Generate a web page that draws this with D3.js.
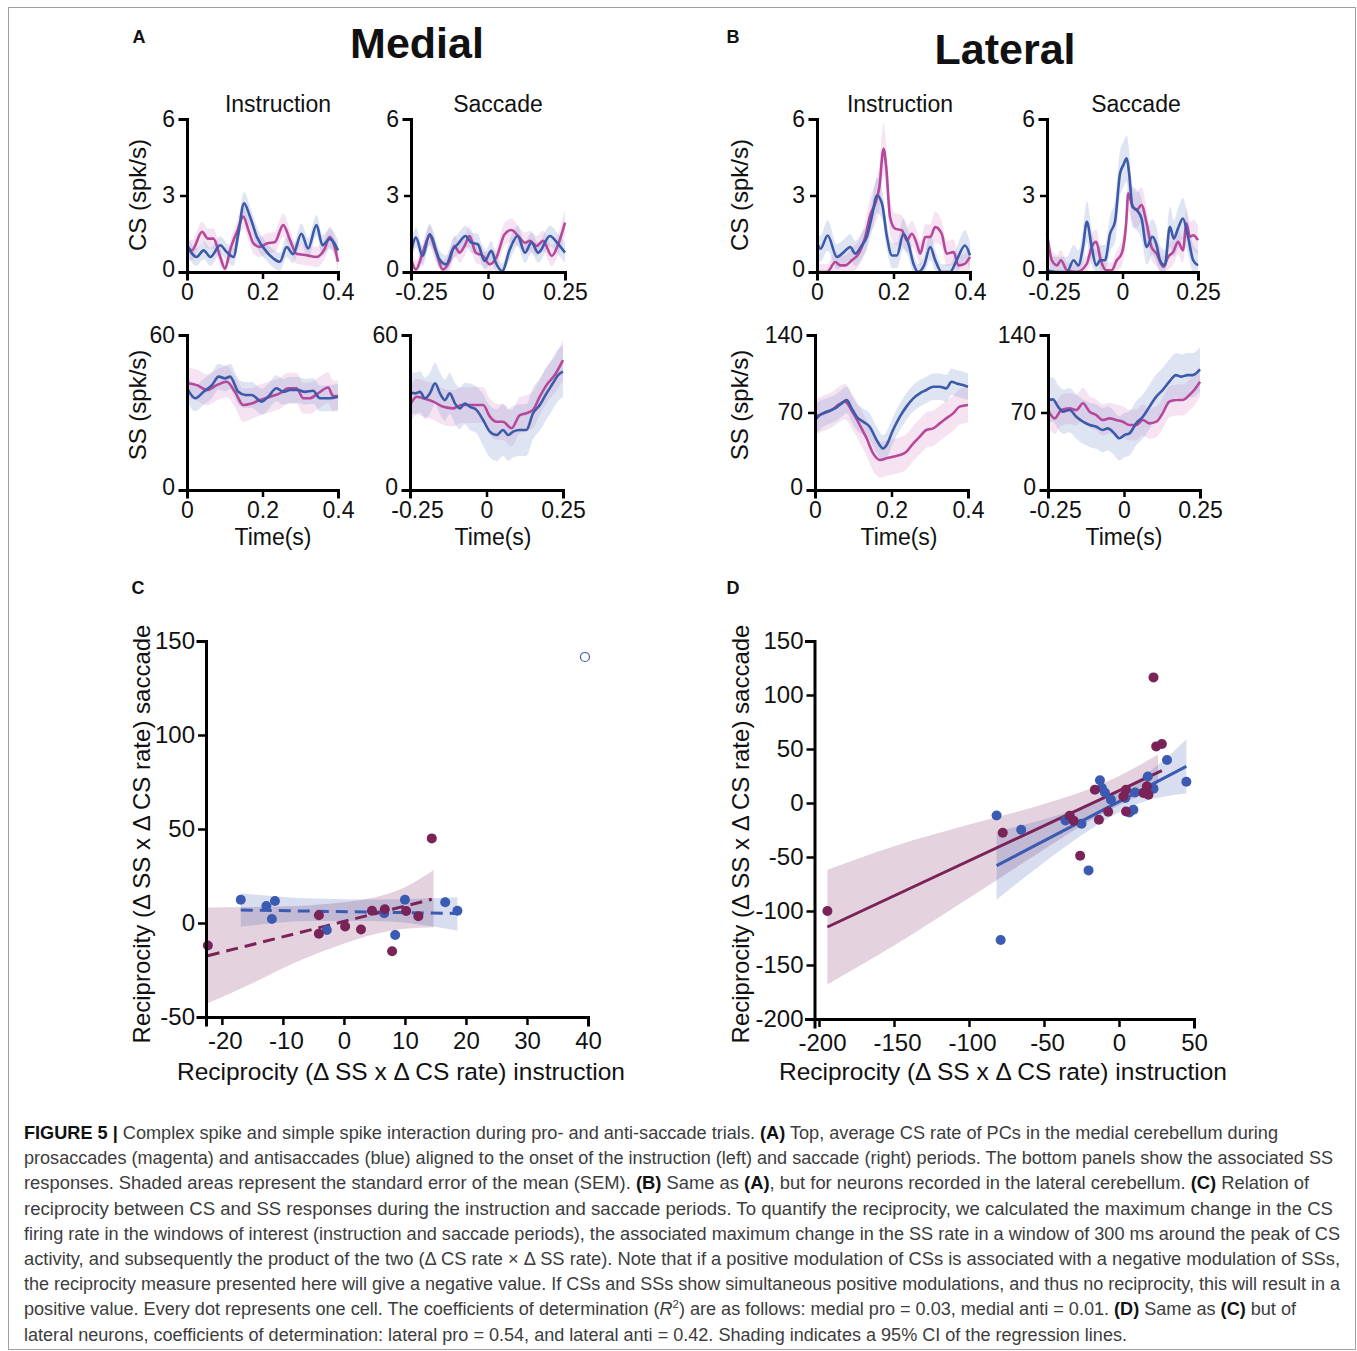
<!DOCTYPE html>
<html>
<head>
<meta charset="utf-8">
<script src="https://cdn.jsdelivr.net/npm/d3@7"></script>
<style>
body { margin: 0; background: #fff; }
svg { display: block; font-family: "Liberation Sans", Arial, Helvetica, sans-serif; }
</style>
</head>
<body>
<div id="chart"></div>
<script>
// ---- tick labels ----
var instrTicks = [0, 0.2, 0.4];
var saccTicks = [-0.25, 0, 0.25];
var csTicks = [0, 3, 6];
var ssMedTicks = [0, 60];
var ssLatTicks = [0, 70, 140];
var cXTicks = [-20, -10, 0, 10, 20, 30, 40];
var cYTicks = [-50, 0, 50, 100, 150];
var dXTicks = [-200, -150, -100, -50, 0, 50];
var dYTicks = [-200, -150, -100, -50, 0, 50, 100, 150];

// ---- traces: [time (s), mean rate, SEM] ----
// A, medial, CS, instruction
var csMedInstrPro = [[0,0.98,0.4],[0.013,0.85,0.4],[0.04,1.58,0.4],[0.055,1.31,0.4],[0.07,1.31,0.4],[0.088,0.59,0.35],[0.101,0.13,0.3],[0.114,0.85,0.35],[0.134,1.64,0.4],[0.149,2.17,0.45],[0.163,1.64,0.4],[0.176,1.12,0.4],[0.193,0.98,0.4],[0.211,1.12,0.4],[0.233,1.18,0.4],[0.255,1.84,0.45],[0.273,1.25,0.4],[0.29,0.72,0.4],[0.317,0.66,0.4],[0.343,0.59,0.4],[0.365,0.92,0.4],[0.378,1.38,0.4],[0.391,0.98,0.4],[0.4,0.4,0.4]];
var csMedInstrAnti = [[0,1.05,0.35],[0.025,0.59,0.35],[0.044,0.85,0.35],[0.062,0.59,0.35],[0.088,1.05,0.35],[0.105,0.79,0.35],[0.123,0.59,0.35],[0.136,1.5,0.4],[0.151,2.69,0.45],[0.167,2.17,0.4],[0.185,1.38,0.4],[0.211,0.79,0.35],[0.229,0.53,0.35],[0.246,0.4,0.35],[0.264,0.98,0.4],[0.281,0.7,0.35],[0.303,1.5,0.4],[0.321,0.92,0.4],[0.343,1.84,0.4],[0.359,1.05,0.4],[0.378,1.3,0.4],[0.4,0.85,0.4]];
// A, medial, CS, saccade
var csMedSaccPro = [[-0.25,0.5,0.4],[-0.234,0.1,0.35],[-0.212,0.76,0.4],[-0.19,1.41,0.4],[-0.168,0.76,0.4],[-0.147,0.1,0.35],[-0.125,0.43,0.4],[-0.109,1.02,0.4],[-0.092,0.76,0.4],[-0.076,1.02,0.4],[-0.06,1.41,0.4],[-0.04,0.76,0.4],[-0.016,0.63,0.4],[0.005,0.3,0.35],[0.027,0.56,0.4],[0.054,1.48,0.45],[0.076,1.65,0.45],[0.098,1.41,0.4],[0.12,1.15,0.4],[0.136,1.22,0.4],[0.158,1.02,0.4],[0.179,1.22,0.4],[0.207,0.63,0.4],[0.228,1.09,0.4],[0.25,1.94,0.5]];
var csMedSaccAnti = [[-0.25,0.76,0.4],[-0.234,1.35,0.4],[-0.212,0.63,0.4],[-0.19,1.48,0.4],[-0.158,0.5,0.35],[-0.136,0.3,0.35],[-0.114,0.89,0.4],[-0.098,1.09,0.4],[-0.073,1.41,0.4],[-0.054,1.15,0.4],[-0.033,1.09,0.4],[-0.011,0.43,0.35],[0.011,0.83,0.4],[0.025,0.37,0.35],[0.046,0.04,0.3],[0.071,0.89,0.4],[0.096,1.41,0.4],[0.12,0.76,0.4],[0.141,1.15,0.4],[0.163,0.76,0.4],[0.201,1.41,0.4],[0.228,1.09,0.4],[0.25,0.76,0.4]];
// A, medial, SS, instruction
var ssMedInstrPro = [[0,41.3,6],[0.026,40.6,6],[0.053,38.7,6],[0.079,40.6,6],[0.105,41.9,6],[0.127,38,6],[0.149,32.9,6.5],[0.171,33.5,6],[0.193,34.8,6],[0.22,36.1,6],[0.246,37.4,6],[0.268,39.4,6],[0.29,39.4,6],[0.308,35.5,6],[0.325,35.5,6],[0.347,37.4,6],[0.374,39.7,6],[0.387,36.4,6],[0.4,36.4,6]];
var ssMedInstrAnti = [[0,39.4,5],[0.022,35.5,5],[0.044,38,5],[0.066,40.6,5],[0.084,43.9,5],[0.101,43.2,5],[0.114,43.9,5],[0.136,38,5],[0.154,36.8,5],[0.171,36.8,5],[0.198,34.2,5],[0.215,36.1,5],[0.237,39.4,5],[0.255,38,5],[0.273,38.7,5],[0.295,38.7,5],[0.312,38,5],[0.334,38.4,5],[0.352,35.5,5],[0.374,35.5,5],[0.4,36.1,5]];
// A, medial, SS, saccade
var ssMedSaccPro = [[-0.25,32.9,7],[-0.228,36.1,7],[-0.207,35.5,7],[-0.174,34.2,7],[-0.141,32.2,7],[-0.109,31.6,7],[-0.082,32.9,7],[-0.054,32.9,7],[-0.011,32.9,7],[0.011,28.4,7],[0.033,26.4,7],[0.054,26.4,7],[0.082,23.9,7],[0.109,29,7],[0.13,29.7,7],[0.152,31,7],[0.174,36.1,7],[0.196,40.6,7],[0.223,44.5,7],[0.25,50.3,8]];
var ssMedSaccAnti = [[-0.25,38,8],[-0.234,37.4,8],[-0.217,38,8],[-0.201,35.5,8],[-0.185,37.4,8],[-0.168,41.3,8],[-0.152,37.4,8],[-0.136,34.8,8],[-0.12,37.4,8],[-0.103,33.5,8],[-0.087,31.6,8],[-0.071,33.5,8],[-0.054,32.2,9],[-0.033,31,9],[-0.011,27.1,10],[0.011,22.6,10],[0.033,21.3,10],[0.054,23.2,10],[0.071,21.3,10],[0.087,22.6,10],[0.109,23.2,10],[0.13,23.2,10],[0.152,29.7,10],[0.174,32.9,10],[0.196,37.4,10],[0.217,41.3,10],[0.234,44.5,10],[0.25,45.8,10]];
// B, lateral, CS, instruction
var csLatInstrPro = [[0,0,0.3],[0.026,0,0.3],[0.048,0.39,0.4],[0.061,0.26,0.4],[0.074,0.26,0.4],[0.091,0.46,0.5],[0.109,0.72,0.5],[0.126,1.37,0.6],[0.139,2.22,0.7],[0.152,2.67,0.8],[0.163,3.33,0.9],[0.174,4.83,1.0],[0.181,4.1,0.9],[0.191,2.15,0.7],[0.204,1.7,0.6],[0.222,1.63,0.6],[0.235,1.24,0.5],[0.248,1.5,0.5],[0.261,1.11,0.5],[0.27,0.72,0.5],[0.283,1.37,0.5],[0.296,1.37,0.5],[0.309,1.76,0.6],[0.326,1.5,0.5],[0.339,0.72,0.5],[0.357,0.78,0.5],[0.37,0.26,0.4],[0.387,0.33,0.4],[0.4,0.59,0.5]];
var csLatInstrAnti = [[0,1.17,0.5],[0.009,0.91,0.5],[0.028,1.43,0.6],[0.052,0.59,0.5],[0.07,0.78,0.5],[0.087,0.98,0.5],[0.1,0.72,0.5],[0.117,1.04,0.5],[0.13,1.37,0.5],[0.143,2.15,0.6],[0.157,3.0,0.7],[0.17,2.67,0.6],[0.183,1.37,0.5],[0.196,0.65,0.5],[0.209,0.65,0.5],[0.226,1.5,0.6],[0.239,1.11,0.5],[0.252,0.33,0.4],[0.265,0,0.3],[0.28,0.26,0.4],[0.296,0.98,0.5],[0.309,0.46,0.4],[0.326,0,0.3],[0.348,0,0.3],[0.365,0.46,0.5],[0.387,1.04,0.6],[0.4,0.65,0.5]];
// B, lateral, CS, saccade
var csLatSaccPro = [[-0.25,1.51,0.5],[-0.234,0.46,0.4],[-0.217,0.26,0.4],[-0.204,0.46,0.4],[-0.184,0.07,0.3],[-0.151,0,0.3],[-0.118,0.33,0.4],[-0.102,0.98,0.5],[-0.087,1.18,0.5],[-0.072,0.46,0.4],[-0.054,0.07,0.3],[-0.036,0.07,0.3],[-0.019,0.46,0.4],[-0.003,0.72,0.5],[0.012,1.9,0.6],[0.019,3.09,0.7],[0.03,2.69,0.7],[0.047,2.43,0.7],[0.063,2.63,0.7],[0.08,1.9,0.6],[0.096,0.98,0.5],[0.113,0.72,0.5],[0.135,0.2,0.4],[0.151,0.59,0.5],[0.168,0.79,0.5],[0.184,1.18,0.5],[0.2,0.85,0.5],[0.212,1.9,0.6],[0.223,1.38,0.6],[0.234,1.44,0.6],[0.25,1.25,0.6]];
var csLatSaccAnti = [[-0.25,0.07,0.6],[-0.217,0,0.6],[-0.184,0,0.6],[-0.162,0.46,0.6],[-0.146,0.26,0.6],[-0.131,0.98,0.7],[-0.118,1.97,0.8],[-0.102,0.98,0.7],[-0.087,0.26,0.6],[-0.074,0.46,0.6],[-0.058,0.46,0.6],[-0.041,1.51,0.7],[-0.025,1.97,0.8],[-0.008,3.87,0.9],[0.003,4.2,0.9],[0.014,4.46,0.9],[0.022,3.87,0.9],[0.033,2.56,0.8],[0.047,2.43,0.8],[0.063,2.1,0.8],[0.08,0.98,0.7],[0.099,1.38,0.7],[0.113,1.05,0.7],[0.124,0.46,0.6],[0.14,0.26,0.6],[0.157,1.77,0.8],[0.17,1.31,0.7],[0.184,1.71,0.8],[0.2,2.1,0.8],[0.217,1.38,0.7],[0.234,0.46,0.6],[0.25,0.26,0.6]];
// B, lateral, SS, instruction
var ssLatInstrPro = [[0,66.2,16],[0.022,69.2,16],[0.043,72.2,16],[0.061,76.8,16],[0.078,79.8,16],[0.1,69.2,16],[0.117,58.7,16],[0.135,46.7,16],[0.152,33.1,16],[0.17,27.1,16],[0.187,28.6,16],[0.204,30.1,16],[0.222,31.6,16],[0.239,34.6,16],[0.257,42.1,16],[0.274,48.2,16],[0.291,54.2,16],[0.309,55.7,16],[0.326,60.2,16],[0.343,64.7,16],[0.361,69.2,16],[0.378,75.3,16],[0.4,76.8,16]];
var ssLatInstrAnti = [[0,63.2,14],[0.013,67.7,13],[0.03,70.7,12],[0.052,73.7,12],[0.07,78.3,12],[0.083,81.3,12],[0.096,73.7,12],[0.109,66.2,12],[0.126,61.7,12],[0.143,57.2,12],[0.161,45.2,12],[0.178,37.6,12],[0.187,40.6,12],[0.204,54.2,12],[0.222,66.2,12],[0.239,75.3,12],[0.257,82.8,12],[0.274,87.3,12],[0.291,90.3,12],[0.309,93.3,12],[0.326,93.3,12],[0.343,91.8,12],[0.357,97.8,12],[0.37,96.3,12],[0.387,94.8,12],[0.4,93.3,12]];
// B, lateral, SS, saccade
var ssLatSaccPro = [[-0.25,72.2,14],[-0.228,64.7,14],[-0.206,72.2,14],[-0.179,73.7,14],[-0.157,72.2,14],[-0.135,78.3,14],[-0.113,70.7,14],[-0.091,67.7,14],[-0.07,63.2,14],[-0.048,64.7,14],[-0.026,63.2,14],[-0.004,61.7,14],[0.018,58.7,14],[0.04,58.7,14],[0.062,63.2,14],[0.084,60.2,14],[0.106,61.7,14],[0.127,69.2,14],[0.149,79.8,14],[0.171,81.3,14],[0.193,81.3,14],[0.215,85.8,14],[0.231,90.3,14],[0.25,97.8,14]];
var ssLatSaccAnti = [[-0.25,81.3,20],[-0.234,81.9,20],[-0.217,75.3,20],[-0.201,70.7,20],[-0.179,72.2,20],[-0.157,66.2,20],[-0.135,61.7,20],[-0.113,58.7,20],[-0.091,57.2,20],[-0.07,54.2,20],[-0.053,55.7,20],[-0.037,52.7,20],[-0.015,46.7,20],[0.002,49.7,20],[0.018,51.2,20],[0.04,60.2,20],[0.062,66.2,20],[0.084,75.3,20],[0.106,84.3,20],[0.127,90.3,20],[0.149,97.8,20],[0.171,103.8,20],[0.188,102.4,20],[0.209,103.8,20],[0.226,103.8,20],[0.25,108.9,20]];

// ---- C, medial reciprocity: [instruction, saccade] ----
var cProPts = [[-22.3,-12],[-4.1,4.1],[-4.1,-5.7],[0.2,-1.8],[2.8,-3.5],[4.6,6.5],[6.7,7.3],[7.9,-15],[10.2,6.4],[12.2,3.6],[14.4,45]];
var cAntiPts = [[-16.9,12.4],[-12.7,9],[-11.3,11.7],[-11.8,2.1],[-2.8,-3.7],[6.6,5.2],[10,12.4],[8.4,-6.4],[16.6,11],[18.6,6.5]];
var cAntiOut = [[39.5,141.5]];
var cProLine = [[-22.3,-17.4],[14.4,12.6]];
var cAntiLine = [[-16.9,6.9],[18.6,5.1]];
var cProBand = [[-22.3,-42.7,8.2],[-15,-32,8.5],[-8,-21,9],[0,-11,11],[5,-6,13.5],[10,-3,19],[14.7,-2.2,28.2]]; // [x, lower, upper]
var cAntiBand = [[-16.9,-2,15.8],[-5,1,13],[5,1,12.5],[18.6,-4.1,13.7]];

// ---- D, lateral reciprocity ----
var dProPts = [[-194.4,-100],[-77.5,-27.5],[-25.9,-48.8],[-30.2,-16.4],[-32.8,-11.8],[-16.1,12.3],[-13.4,-15.5],[-7.2,-8.1],[4.7,12.3],[2.9,6.1],[4.7,-7.8],[16.3,9.3],[19.6,7.7],[18.6,15.4],[23,116.3],[24.8,52.4],[28.6,54.6]];
var dAntiPts = [[-81.6,-11.5],[-78.9,-126.9],[-65.2,-24.7],[-35.7,-16.1],[-25,-19.2],[-20.3,-62.4],[-12.7,21],[-11.4,13.9],[-9.4,9.8],[-5.4,3.1],[4.2,4.6],[6.9,-8.7],[9.6,-6.2],[10.7,9.8],[19.2,24.6],[23,13.2],[32,39.8],[44.9,19.7]];
var dProLine = [[-194.4,-114.8],[28.6,29.9]];
var dAntiLine = [[-81.6,-58],[44.9,33.9]];
var dProBand = [[-194.4,-168,-61.8],[-150,-132,-40],[-100,-88,-20],[-50,-43,-1],[-20,-17,13],[0,-2,25],[26,14,45]];
var dAntiBand = [[-81.6,-89.6,-26.4],[-50,-55,-15],[-25,-29.9,-3.9],[-5,-12.4,7.6],[20,2.8,28.8],[44.9,8.9,58.9]];

// ---- caption lines: [text, style] segments ----
var caption = [
  [['FIGURE 5 | ', 'b'], ['Complex spike and simple spike interaction during pro- and anti-saccade trials. ', ''], ['(A)', 'b'], [' Top, average CS rate of PCs in the medial cerebellum during', '']],
  [['prosaccades (magenta) and antisaccades (blue) aligned to the onset of the instruction (left) and saccade (right) periods. The bottom panels show the associated SS', '']],
  [['responses. Shaded areas represent the standard error of the mean (SEM). ', ''], ['(B)', 'b'], [' Same as ', ''], ['(A)', 'b'], [', but for neurons recorded in the lateral cerebellum. ', ''], ['(C)', 'b'], [' Relation of', '']],
  [['reciprocity between CS and SS responses during the instruction and saccade periods. To quantify the reciprocity, we calculated the maximum change in the CS', '']],
  [['firing rate in the windows of interest (instruction and saccade periods), the associated maximum change in the SS rate in a window of 300 ms around the peak of CS', '']],
  [['activity, and subsequently the product of the two (\u0394 CS rate \u00d7 \u0394 SS rate). Note that if a positive modulation of CSs is associated with a negative modulation of SSs,', '']],
  [['the reciprocity measure presented here will give a negative value. If CSs and SSs show simultaneous positive modulations, and thus no reciprocity, this will result in a', '']],
  [['positive value. Every dot represents one cell. The coefficients of determination (', ''], ['R', 'i'], ['2', 'sup'], [') are as follows: medial pro = 0.03, medial anti = 0.01. ', ''], ['(D)', 'b'], [' Same as ', ''], ['(C)', 'b'], [' but of', '']],
  [['lateral neurons, coefficients of determination: lateral pro = 0.54, and lateral anti = 0.42. Shading indicates a 95% CI of the regression lines.', '']]
];
var captionEnds = [1278, 1333, 1309, 1333, 1340, 1340, 1340, 1296, 1127];

var MAG = '#b5489b', BLU = '#3b5aa9';
var PUR = '#7a2358', SBLU = '#3a5bb1';

var svg = d3.select('#chart').append('svg')
  .attr('width', 1357).attr('height', 1351);

// frame
svg.append('rect').attr('x', 8.5).attr('y', 7.5).attr('width', 1347).attr('height', 1342)
  .attr('fill', 'none').attr('stroke', '#a0a0a0').attr('stroke-width', 1);

function styleAxis(ax, fs) {
  ax.attr('font-size', null).attr('font-family', null);
  ax.select('.domain').attr('stroke', '#000').attr('stroke-width', 3).attr('stroke-linecap', 'square');
  ax.selectAll('.tick line').attr('stroke', '#000').attr('stroke-width', 2.5);
  ax.selectAll('.tick text').attr('font-size', fs).attr('fill', '#111');
}

function label(txt, x, y, opts) {
  opts = opts || {};
  var t = svg.append('text').text(txt)
    .attr('font-size', opts.fs || 23)
    .attr('font-weight', opts.bold ? 'bold' : null)
    .attr('fill', '#111')
    .attr('text-anchor', opts.anchor || 'middle');
  if (opts.rot) t.attr('transform', 'translate(' + x + ',' + y + ') rotate(-90)');
  else t.attr('x', x).attr('y', y);
  return t;
}

// ----- trace panels -----
// negDx: how far the negative x tick label sits right of its tick
var tracePanels = [
  { x0: 187, x1: 338, y0: 272, y1: 119, xd: [0, 0.4], yd: [0, 6], xt: instrTicks, yt: csTicks, pro: csMedInstrPro, anti: csMedInstrAnti, negDx: 0 },
  { x0: 411, x1: 565, y0: 272, y1: 119, xd: [-0.25, 0.25], yd: [0, 6], xt: saccTicks, yt: csTicks, pro: csMedSaccPro, anti: csMedSaccAnti, negDx: 10 },
  { x0: 187, x1: 338, y0: 490, y1: 335, xd: [0, 0.4], yd: [0, 60], xt: instrTicks, yt: ssMedTicks, pro: ssMedInstrPro, anti: ssMedInstrAnti, negDx: 0 },
  { x0: 410, x1: 563, y0: 490, y1: 335, xd: [-0.25, 0.25], yd: [0, 60], xt: saccTicks, yt: ssMedTicks, pro: ssMedSaccPro, anti: ssMedSaccAnti, negDx: 7 },
  { x0: 817, x1: 970, y0: 272, y1: 119, xd: [0, 0.4], yd: [0, 6], xt: instrTicks, yt: csTicks, pro: csLatInstrPro, anti: csLatInstrAnti, negDx: 0 },
  { x0: 1047, x1: 1198, y0: 272, y1: 119, xd: [-0.25, 0.25], yd: [0, 6], xt: saccTicks, yt: csTicks, pro: csLatSaccPro, anti: csLatSaccAnti, negDx: 7 },
  { x0: 815, x1: 968, y0: 490, y1: 335, xd: [0, 0.4], yd: [0, 140], xt: instrTicks, yt: ssLatTicks, pro: ssLatInstrPro, anti: ssLatInstrAnti, negDx: 0 },
  { x0: 1048, x1: 1200, y0: 490, y1: 335, xd: [-0.25, 0.25], yd: [0, 140], xt: saccTicks, yt: ssLatTicks, pro: ssLatSaccPro, anti: ssLatSaccAnti, negDx: 7 }
];

tracePanels.forEach(function (p) {
  var x = d3.scaleLinear().domain(p.xd).range([p.x0, p.x1]);
  var y = d3.scaleLinear().domain(p.yd).range([p.y0, p.y1]);
  var g = svg.append('g');
  var area = d3.area().curve(d3.curveMonotoneX)
    .x(function (d) { return x(d[0]); })
    .y0(function (d) { return y(Math.max(p.yd[0], d[1] - d[2])); })
    .y1(function (d) { return y(d[1] + d[2]); });
  var line = d3.line().curve(d3.curveMonotoneX)
    .x(function (d) { return x(d[0]); })
    .y(function (d) { return y(d[1]); });
  g.append('path').datum(p.pro).attr('d', area).attr('fill', '#d77fc0').attr('fill-opacity', 0.22);
  g.append('path').datum(p.anti).attr('d', area).attr('fill', '#7f95cf').attr('fill-opacity', 0.25);
  g.append('path').datum(p.pro).attr('d', line).attr('fill', 'none').attr('stroke', MAG).attr('stroke-width', 2.6);
  g.append('path').datum(p.anti).attr('d', line).attr('fill', 'none').attr('stroke', BLU).attr('stroke-width', 2.6);

  var xa = g.append('g').attr('transform', 'translate(0,' + p.y0 + ')')
    .call(d3.axisBottom(x).tickValues(p.xt).tickSizeOuter(0).tickSize(7).tickPadding(5).tickFormat(String));
  styleAxis(xa, 23);
  xa.selectAll('.tick text').attr('dx', function (d) { return d < 0 ? p.negDx : 0; });
  var ya = g.append('g').attr('transform', 'translate(' + p.x0 + ',0)')
    .call(d3.axisLeft(y).tickValues(p.yt).tickSizeOuter(0).tickSize(7).tickPadding(5).tickFormat(String));
  styleAxis(ya, 23);
  ya.selectAll('.tick text').attr('dy', function (d) { return d === 0 ? '0.2em' : '0.32em'; });
});

// headings and labels, top half
label('A', 139, 43, { fs: 18, bold: true });
label('B', 733, 43, { fs: 18, bold: true });
label('Medial', 417, 58, { fs: 43, bold: true });
label('Lateral', 1005, 64, { fs: 43, bold: true });
label('Instruction', 278, 112, { fs: 23 });
label('Saccade', 498, 112, { fs: 23 });
label('Instruction', 900, 112, { fs: 23 });
label('Saccade', 1136, 112, { fs: 23 });
label('CS (spk/s)', 146, 195, { fs: 24, rot: true });
label('SS (spk/s)', 146, 405, { fs: 24, rot: true });
label('CS (spk/s)', 748, 195, { fs: 24, rot: true });
label('SS (spk/s)', 748, 405, { fs: 24, rot: true });
label('Time(s)', 273, 545, { fs: 23 });
label('Time(s)', 493, 545, { fs: 23 });
label('Time(s)', 899, 545, { fs: 23 });
label('Time(s)', 1124, 545, { fs: 23 });

// ----- scatter panels -----
function scatterPanel(cfg) {
  var x = d3.scaleLinear().domain(cfg.xd).range(cfg.xr);
  var y = d3.scaleLinear().domain(cfg.yd).range(cfg.yr);
  var g = svg.append('g');
  var band = d3.area().curve(d3.curveMonotoneX)
    .x(function (d) { return x(d[0]); })
    .y0(function (d) { return y(d[1]); })
    .y1(function (d) { return y(d[2]); });
  var line = d3.line().x(function (d) { return x(d[0]); }).y(function (d) { return y(d[1]); });

  g.append('path').datum(cfg.proBand).attr('d', band).attr('fill', PUR).attr('fill-opacity', 0.2);
  g.append('path').datum(cfg.antiBand).attr('d', band).attr('fill', SBLU).attr('fill-opacity', 0.2);
  g.append('path').datum(cfg.antiLine).attr('d', line).attr('fill', 'none').attr('stroke', SBLU)
    .attr('stroke-width', 3).attr('stroke-dasharray', cfg.dash);
  g.append('path').datum(cfg.proLine).attr('d', line).attr('fill', 'none').attr('stroke', PUR)
    .attr('stroke-width', 3).attr('stroke-dasharray', cfg.dash);

  g.selectAll('.pa').data(cfg.antiPts).enter().append('circle')
    .attr('cx', function (d) { return x(d[0]); }).attr('cy', function (d) { return y(d[1]); })
    .attr('r', 5).attr('fill', SBLU);
  g.selectAll('.pp').data(cfg.proPts).enter().append('circle')
    .attr('cx', function (d) { return x(d[0]); }).attr('cy', function (d) { return y(d[1]); })
    .attr('r', 5).attr('fill', PUR);
  if (cfg.openPts) {
    g.selectAll('.po').data(cfg.openPts).enter().append('circle')
      .attr('cx', function (d) { return x(d[0]); }).attr('cy', function (d) { return y(d[1]); })
      .attr('r', 4.5).attr('fill', 'none').attr('stroke', SBLU).attr('stroke-width', 1.2);
  }

  var xa = g.append('g').attr('transform', 'translate(0,' + cfg.yr[0] + ')')
    .call(d3.axisBottom(x).tickValues(cfg.xt).tickSizeOuter(0).tickSize(8).tickPadding(7).tickFormat(String));
  styleAxis(xa, 24);
  xa.selectAll('.tick text').attr('dx', function (d) { return d < 0 ? 3 : 0; });
  var ya = g.append('g').attr('transform', 'translate(' + cfg.xr[0] + ',0)')
    .call(d3.axisLeft(y).tickValues(cfg.yt).tickSizeOuter(0).tickSize(8).tickPadding(3).tickFormat(String));
  styleAxis(ya, 24);
}

scatterPanel({
  xd: [-22.6, 40], xr: [206, 588], yd: [-50, 150], yr: [1017, 641],
  xt: cXTicks, yt: cYTicks, dash: '12,7',
  proPts: cProPts, antiPts: cAntiPts, openPts: cAntiOut,
  proLine: cProLine, antiLine: cAntiLine, proBand: cProBand, antiBand: cAntiBand
});
scatterPanel({
  xd: [-203, 50], xr: [814.5, 1194], yd: [-200, 150], yr: [1019, 641],
  xt: dXTicks, yt: dYTicks, dash: null,
  proPts: dProPts, antiPts: dAntiPts,
  proLine: dProLine, antiLine: dAntiLine, proBand: dProBand, antiBand: dAntiBand
});

label('C', 138, 594, { fs: 18, bold: true });
label('D', 733, 594, { fs: 18, bold: true });
label('Reciprocity (\u0394 SS x \u0394 CS rate) saccade', 150, 834, { fs: 24, rot: true });
label('Reciprocity (\u0394 SS x \u0394 CS rate) saccade', 749, 834, { fs: 24, rot: true });
label('Reciprocity (\u0394 SS x \u0394 CS rate) instruction', 401, 1080, { fs: 24.5 });
label('Reciprocity (\u0394 SS x \u0394 CS rate) instruction', 1003, 1080, { fs: 24.5 });

// ----- caption -----
caption.forEach(function (segs, i) {
  var t = svg.append('text').attr('x', 24).attr('y', 1139 + i * 25.2)
    .attr('font-size', 17.5).attr('fill', '#3c3c3c')
    .attr('textLength', captionEnds[i] - 24).attr('lengthAdjust', 'spacingAndGlyphs');
  var shifted = false;
  segs.forEach(function (s) {
    var ts = t.append('tspan').text(s[0]);
    if (s[1] === 'b') ts.attr('font-weight', 'bold').attr('fill', '#111');
    if (s[1] === 'i') ts.attr('font-style', 'italic');
    if (s[1] === 'sup') { ts.attr('font-size', 11).attr('dy', -7); shifted = true; }
    else if (shifted) { ts.attr('dy', 7); shifted = false; }
  });
});
</script>
</body>
</html>
